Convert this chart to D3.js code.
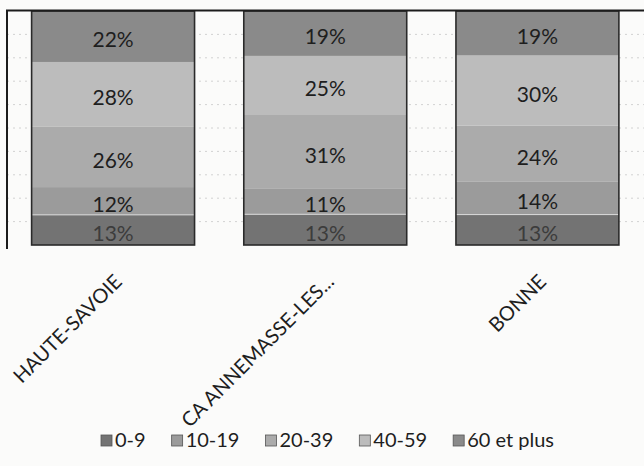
<!DOCTYPE html>
<html>
<head>
<meta charset="utf-8">
<script src="https://cdn.jsdelivr.net/npm/d3@7"></script>
<style>
  html, body { margin: 0; padding: 0; background: #fbfbfa; }
  svg { display: block; font-family: Lato, "Open Sans", sans-serif; }
</style>
</head>
<body>
<svg id="chart" width="644" height="466"></svg>
<script>
// Age structure of the population (share of each age band, %)
const categories = ["HAUTE-SAVOIE", "CA ANNEMASSE-LES...", "BONNE"];
const ageBands = ["0-9", "10-19", "20-39", "40-59", "60 et plus"];
const age0to9 = [13, 13, 13];
const age10to19 = [12, 11, 14];
const age20to39 = [26, 31, 24];
const age40to59 = [28, 25, 30];
const age60plus = [22, 19, 19];
const gridTicks = [0, 0.1, 0.2, 0.3, 0.4, 0.5, 0.6, 0.7, 0.8, 0.9, 1];

const seriesValues = [age0to9, age10to19, age20to39, age40to59, age60plus];
const rows = categories.map((c, i) => {
  const r = { category: c };
  ageBands.forEach((b, k) => { r[b] = seriesValues[k][i]; });
  return r;
});

const fills = ["#737373", "#9b9b9b", "#ababab", "#bcbcbc", "#8a8a8a"];
const labelFills = ["#3c3c3c", "#1e1e1e", "#1e1e1e", "#1e1e1e", "#1e1e1e"];

const svg = d3.select("#chart");
const plot = { left: 7, right: 643.5, top: 11, bottom: 245 };

const x = d3.scaleBand()
  .domain(categories)
  .range([plot.left, plot.right])
  .paddingInner(0.232)
  .paddingOuter(0.116);

const y = d3.scaleLinear().domain([0, 1]).range([plot.bottom, plot.top]);

const stack = d3.stack().keys(ageBands).offset(d3.stackOffsetExpand);
const layers = stack(rows);

// dashed gridlines
svg.append("g")
  .selectAll("line")
  .data(gridTicks.slice(1, -1))
  .join("line")
  .attr("x1", plot.left)
  .attr("x2", 644)
  .attr("y1", d => y(d))
  .attr("y2", d => y(d))
  .attr("stroke", "#d2d2d2")
  .attr("stroke-width", 1)
  .attr("stroke-dasharray", "2,4");

// stacked segments
const layerG = svg.append("g")
  .selectAll("g")
  .data(layers)
  .join("g")
  .attr("fill", (d, i) => fills[i]);

layerG.selectAll("rect")
  .data(d => d.map(p => ({ p, key: d.key })))
  .join("rect")
  .attr("x", d => x(d.p.data.category))
  .attr("width", x.bandwidth())
  .attr("y", d => y(d.p[1]))
  .attr("height", d => y(d.p[0]) - y(d.p[1]));

// thin light seam between the two lowest bands
svg.append("g")
  .selectAll("line")
  .data(layers[0])
  .join("line")
  .attr("x1", d => x(d.data.category))
  .attr("x2", d => x(d.data.category) + x.bandwidth())
  .attr("y1", d => y(d[1]))
  .attr("y2", d => y(d[1]))
  .attr("stroke", "#d8d8d8")
  .attr("stroke-width", 1);

// bar outlines
svg.append("g")
  .selectAll("rect")
  .data(categories)
  .join("rect")
  .attr("x", d => x(d))
  .attr("width", x.bandwidth())
  .attr("y", y(1))
  .attr("height", y(0) - y(1))
  .attr("fill", "none")
  .attr("stroke", "#2a2a2a")
  .attr("stroke-width", 1.6);

// frame (top and left edges of the plot area)
svg.append("path")
  .attr("d", `M${plot.left},${plot.bottom + 4}V${plot.top - 0.5}H644`)
  .attr("fill", "none")
  .attr("stroke", "#1c1c1c")
  .attr("stroke-width", 2);

// value labels
layerG.selectAll("text")
  .data((d, i) => d.map(p => ({ p, i })))
  .join("text")
  .attr("x", d => x(d.p.data.category) + x.bandwidth() / 2)
  .attr("y", d => (y(d.p[0]) + y(d.p[1])) / 2 + 11)
  .attr("text-anchor", "middle")
  .attr("font-size", 21)
  .attr("fill", d => labelFills[d.i])
  .text(d => d.p.data[ageBands[d.i]] + "%");

// category axis labels, rotated, ending just right of each bar's centre
svg.append("g")
  .selectAll("text")
  .data(categories)
  .join("text")
  .attr("transform", d => `translate(${x(d) + x.bandwidth() / 2 + 10},283) rotate(-45)`)
  .attr("text-anchor", "end")
  .attr("font-size", 20)
  .attr("fill", "#1e1e1e")
  .text(d => d);

// legend
const legend = svg.append("g").attr("transform", "translate(0,447)");
let cursor = 101;
ageBands.forEach((b, i) => {
  const g = legend.append("g").attr("transform", `translate(${cursor},0)`);
  g.append("rect")
    .attr("x", 0).attr("y", -12)
    .attr("width", 11).attr("height", 11)
    .attr("fill", fills[i])
    .attr("stroke", "#555").attr("stroke-width", 0.8);
  const t = g.append("text")
    .attr("x", 14)
    .attr("font-size", 20)
    .attr("fill", "#1e1e1e")
    .text(b);
  cursor += 14 + t.node().getComputedTextLength() + 26;
});
</script>
</body>
</html>
